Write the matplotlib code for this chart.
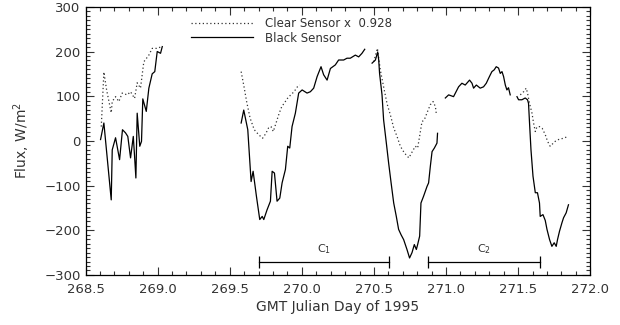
import matplotlib
matplotlib.use("Agg")
import numpy as np
import matplotlib.pyplot as plt
from matplotlib.ticker import MultipleLocator

# black sensor, one list per unbroken stretch of data
black_day = [
    [268.604, 268.627, 268.678, 268.685, 268.708, 268.736, 268.756, 268.777, 268.793, 268.812,
     268.831, 268.840, 268.849, 268.858, 268.876, 268.888, 268.897, 268.921, 268.939, 268.962,
     268.980, 268.997, 269.020, 269.032],
    [269.579, 269.597, 269.625, 269.648, 269.662, 269.685, 269.708, 269.725, 269.736, 269.759,
     269.782, 269.794, 269.810, 269.828, 269.847, 269.863, 269.886, 269.902, 269.916, 269.932,
     269.955, 269.978, 270.002, 270.036, 270.059, 270.082, 270.106, 270.133, 270.151, 270.175,
     270.198, 270.232, 270.255, 270.290, 270.313, 270.336, 270.371, 270.394, 270.417, 270.436],
    [270.487, 270.510, 270.526, 270.533, 270.539, 270.556, 270.567, 270.586, 270.602, 270.619,
     270.637, 270.655, 270.671, 270.688, 270.706, 270.729, 270.747, 270.764, 270.780, 270.794,
     270.803, 270.817, 270.826, 270.844, 270.868, 270.879, 270.891, 270.903, 270.919, 270.937,
     270.941],
    [270.995, 271.018, 271.052, 271.087, 271.110, 271.133, 271.163, 271.180, 271.191, 271.210,
     271.237, 271.260, 271.279, 271.295, 271.307, 271.318, 271.334, 271.348, 271.364, 271.376,
     271.388, 271.399, 271.411, 271.422, 271.433, 271.445],
    [271.492, 271.503, 271.526, 271.549, 271.565, 271.572, 271.579, 271.589, 271.603, 271.619,
     271.634, 271.648, 271.653, 271.672, 271.688, 271.700, 271.718, 271.734, 271.750, 271.764,
     271.773, 271.787, 271.804, 271.815, 271.833, 271.849],
]
black_flux = [
    [3, 40, -132, -20, 7, -42, 25, 18, 10, -38,
     10, -35, -83, 62, -12, -1, 94, 66, 118, 150,
     155, 200, 196, 211],
    [40, 69, 25, -91, -68, -124, -176, -169, -176, -154,
     -135, -68, -72, -135, -128, -94, -64, -12, -16, 32,
     62, 107, 114, 107, 110, 118, 144, 166, 148, 136,
     162, 170, 181, 181, 185, 185, 192, 188, 196, 205],
    [174, 181, 199, 181, 151, 103, 47, -5, -50, -94,
     -139, -169, -198, -210, -221, -243, -262, -250, -232, -243,
     -232, -213, -139, -124, -102, -94, -57, -24, -16, -5,
     17],
    [96, 103, 99, 121, 129, 125, 136, 129, 118, 125,
     118, 121, 129, 140, 148, 155, 159, 166, 163, 151,
     155, 144, 125, 114, 119, 103],
    [99, 92, 92, 96, 92, 84, 40, -20, -79, -116,
     -116, -139, -169, -165, -178, -198, -221, -236, -228, -236,
     -221, -202, -183, -172, -161, -143],
]

# clear sensor scaled by 0.928 (only where it shows apart from the black trace)
clear_day = [
    [268.609, 268.627, 268.646, 268.678, 268.685, 268.708, 268.731, 268.754, 268.789, 268.812,
     268.840, 268.858, 268.881, 268.904, 268.923, 268.939, 268.962, 268.997, 269.020, 269.032],
    [269.579, 269.599, 269.617, 269.641, 269.670, 269.700, 269.728, 269.751, 269.769, 269.786,
     269.802, 269.821, 269.843, 269.861, 269.877, 269.900, 269.923, 269.946, 269.969, 269.986],
    [270.498, 270.524, 270.544, 270.567, 270.591, 270.614, 270.637, 270.660, 270.683, 270.711,
     270.742, 270.766, 270.787, 270.803, 270.817, 270.833, 270.849, 270.872, 270.891, 270.910,
     270.926, 270.932],
    [271.515, 271.538, 271.556, 271.565, 271.579, 271.596, 271.607, 271.619, 271.630, 271.648,
     271.667, 271.688, 271.704, 271.722, 271.741, 271.757, 271.780, 271.815, 271.838, 271.849],
]
clear_flux = [
    [32, 154, 114, 63, 88, 99, 88, 107, 103, 110,
     95, 130, 118, 177, 185, 192, 207, 207, 210, 211],
    [155, 121, 88, 51, 25, 14, 6, 17, 29, 32,
     21, 40, 62, 77, 84, 95, 103, 110, 121, 125],
    [177, 207, 159, 121, 83, 58, 29, 10, -12, -27,
     -38, -24, -12, -16, 11, 43, 47, 66, 81, 88,
     77, 62],
    [103, 110, 118, 107, 84, 62, 40, 21, 31, 32,
     28, 14, -1, -12, -6, -1, 3, 6, 9, 10],
]

# cloud periods C1 and C2
period_names = ["C$_1$", "C$_2$"]
period_start = [269.70, 270.877]
period_end = [270.607, 271.653]
period_level = -270

plt.rcParams['font.family'] = ['DejaVu Sans']
fig = plt.figure(figsize=(6.2, 3.25), dpi=100)
ax = fig.add_axes([0.138, 0.154, 0.814, 0.825])

for i in range(len(clear_day)):
    ax.plot(clear_day[i], clear_flux[i], color='#333333', lw=0.9, linestyle=(0, (1, 2)),
            label="Clear Sensor x  0.928" if i == 0 else None)
for i in range(len(black_day)):
    ax.plot(black_day[i], black_flux[i], color='black', lw=0.9,
            label="Black Sensor" if i == 0 else None)

for i in range(len(period_names)):
    ax.plot([period_start[i], period_end[i]], [period_level, period_level], color='black', lw=0.9,
            marker='|', markersize=8, markeredgewidth=0.9)
    ax.text((period_start[i] + period_end[i]) / 2, period_level + 28, period_names[i],
            ha='center', va='center', fontsize=8, color='#333333')

ax.set_xlim(268.5, 272.0)
ax.set_ylim(-300, 300)
ax.xaxis.set_major_locator(MultipleLocator(0.5))
ax.xaxis.set_minor_locator(MultipleLocator(0.1))
ax.yaxis.set_major_locator(MultipleLocator(100))
ax.yaxis.set_minor_locator(MultipleLocator(10))
ax.tick_params(which='both', direction='in', top=True, right=True, labelsize=9.5,
               colors='#333333', width=0.8)
ax.tick_params(which='major', length=6)
ax.tick_params(which='minor', length=3)
ax.tick_params(axis='x', pad=6)
ax.xaxis.set_major_formatter(matplotlib.ticker.FormatStrFormatter('%.1f'))
for s in ax.spines.values():
    s.set_linewidth(0.9)

ax.set_xlabel("GMT Julian Day of 1995", fontsize=10, color='#333333', labelpad=3)
ax.set_ylabel("Flux, W/m$^2$", fontsize=10, color='#333333', labelpad=9)

ax.legend(loc='upper left', bbox_to_anchor=(0.198, 0.985), frameon=False, fontsize=8.5,
          handlelength=5.2, handletextpad=1.0, labelspacing=0.15, borderpad=0,
          labelcolor='#333333')

fig.savefig("out.png", dpi=100)
